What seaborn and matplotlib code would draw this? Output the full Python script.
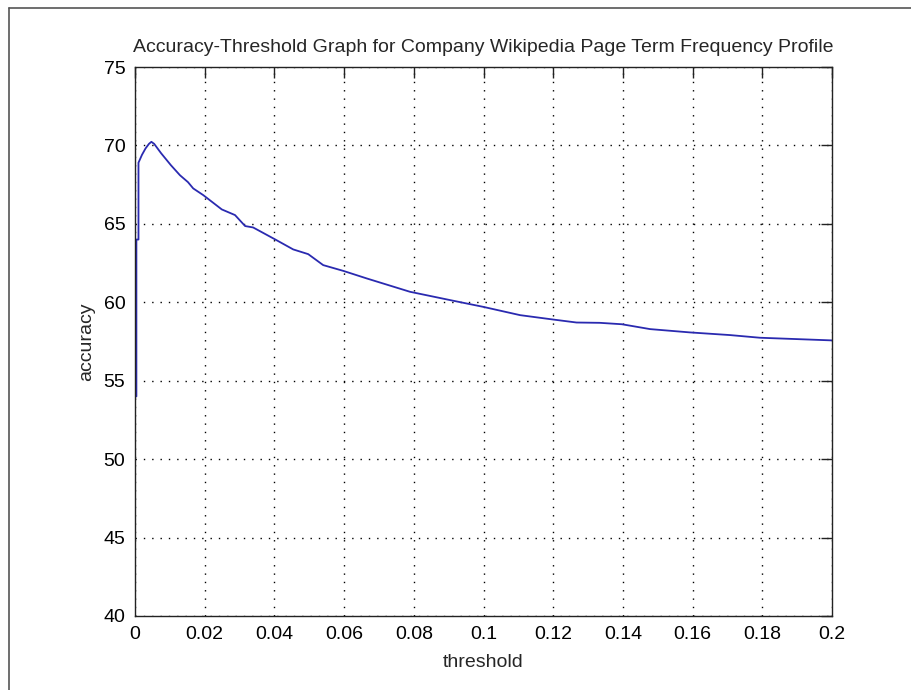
import matplotlib
matplotlib.use("Agg")
import matplotlib.pyplot as plt
from matplotlib.lines import Line2D
import seaborn as sns
import pandas as pd

threshold = [0.0, 0.0004, 0.0004, 0.0010, 0.0010, 0.0020, 0.0030, 0.0040, 0.0047,
             0.0055, 0.0075, 0.0103, 0.0129, 0.0152, 0.0167, 0.0196, 0.0249,
             0.0287, 0.0316, 0.0339, 0.0402, 0.0454, 0.0497, 0.0540, 0.0598,
             0.0665, 0.0789, 0.0904, 0.0999, 0.1105, 0.1200, 0.1267, 0.1334,
             0.1397, 0.1478, 0.1592, 0.1707, 0.1793, 0.1927, 0.2000]
accuracy = [54.0, 54.0, 64.0, 64.0, 68.9, 69.4, 69.8, 70.1, 70.23,
            70.1, 69.5, 68.74, 68.1, 67.66, 67.26, 66.83, 65.92,
            65.56, 64.86, 64.77, 64.01, 63.37, 63.07, 62.37, 62.0,
            61.52, 60.67, 60.14, 59.71, 59.18, 58.9, 58.71, 58.69,
            58.6, 58.29, 58.08, 57.91, 57.74, 57.63, 57.57]

x_ticks = [0, 0.02, 0.04, 0.06, 0.08, 0.1, 0.12, 0.14, 0.16, 0.18, 0.2]
x_ticklabels = ["0", "0.02", "0.04", "0.06", "0.08", "0.1", "0.12", "0.14", "0.16", "0.18", "0.2"]
y_ticks = [40, 45, 50, 55, 60, 65, 70, 75]

title = "Accuracy-Threshold Graph for Company Wikipedia Page Term Frequency Profile"
xlabel = "threshold"
ylabel = "accuracy"

df = pd.DataFrame({"threshold": threshold, "accuracy": accuracy})

sns.set_style("white")
plt.rcParams["font.family"] = ["Liberation Sans", "DejaVu Sans"]

fig = plt.figure(figsize=(9.12, 6.9), dpi=100)
ax = fig.add_axes([135 / 912, 1 - 616 / 690, (832 - 135) / 912, (616 - 67) / 690])

sns.lineplot(data=df, x="threshold", y="accuracy", sort=False, estimator=None,
             color="#2a2ab0", linewidth=1.3, ax=ax)

ax.set_xlim(0, 0.2)
ax.set_ylim(40, 75)
ax.set_xticks(x_ticks)
ax.set_xticklabels(x_ticklabels)
ax.set_yticks(y_ticks)
ax.grid(True, color="black", linestyle=(0, (1, 5)), linewidth=1.0)
ax.tick_params(direction="in", length=8, width=1, colors="#222222",
               top=True, right=True, labelsize=14, pad=7)
for lbl in ax.get_xticklabels() + ax.get_yticklabels():
    lbl.set_color("black")
for s in ax.spines.values():
    s.set_color("#222222")
    s.set_linewidth(1.0)

ax.set_xlabel(xlabel, fontsize=14, labelpad=8)
ax.set_ylabel(ylabel, fontsize=14, labelpad=6)
ax.set_title(title, fontsize=14, pad=11)

# outer frame of the screenshot
fig.add_artist(Line2D([9 / 912, 1.0], [1 - 8 / 690, 1 - 8 / 690], color="#555555",
                      linewidth=1.2, transform=fig.transFigure))
fig.add_artist(Line2D([9 / 912, 9 / 912], [0, 1 - 8 / 690], color="#555555",
                      linewidth=1.2, transform=fig.transFigure))

fig.savefig("out.png", dpi=100)
